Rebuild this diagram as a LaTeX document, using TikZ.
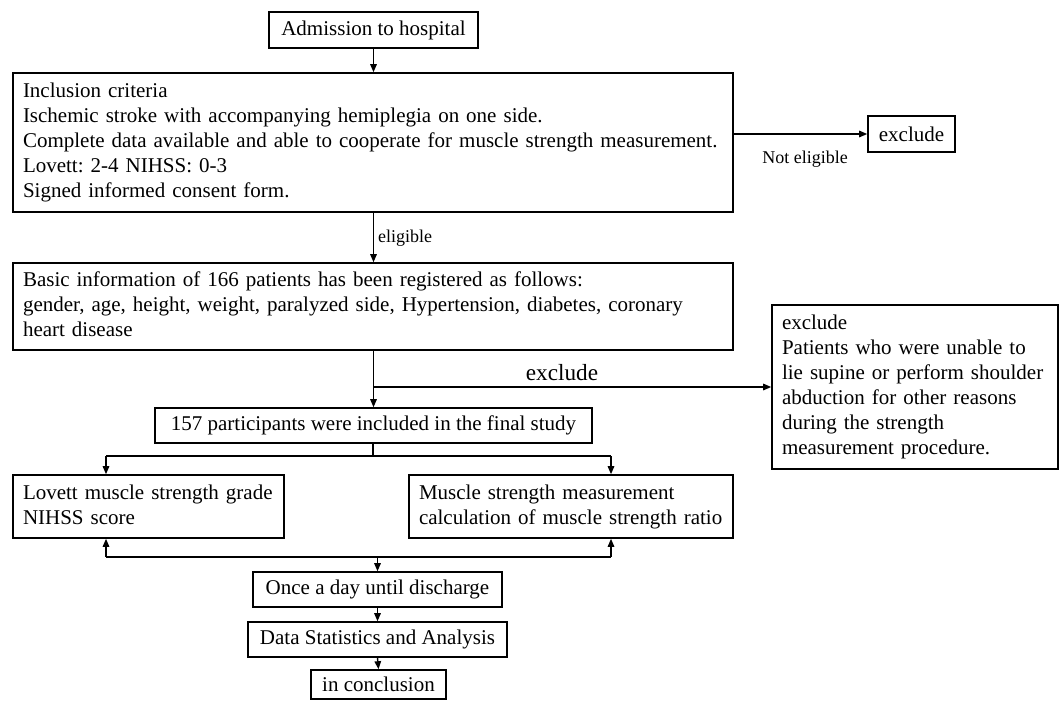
\documentclass[tikz,border=0pt]{standalone}
\usepackage{fontspec}
\setmainfont{Liberation Serif}
\usetikzlibrary{arrows.meta}
\frenchspacing
\newcommand{\lines}[1]{\begin{tabular}{@{}l@{}}#1\end{tabular}}
\begin{document}
\begin{tikzpicture}[x=1pt,y=-1pt,
  line width=1.5pt,
  box/.style={draw, line width=1.6pt, inner xsep=10pt, inner ysep=0pt,
    font=\fontsize{21}{25}\selectfont, anchor=center},
  lbox/.style={box, align=left},
  cbox/.style={box, align=center},
  arr/.style={-{Triangle[length=8pt,width=6.5pt]}, line width=1.4pt},
  conn/.style={line width=1.4pt},
  smalllab/.style={font=\fontsize{18}{21}\selectfont, inner sep=0pt},
  biglab/.style={font=\fontsize{23.2}{27}\selectfont, inner sep=0pt}
]
\useasboundingbox (0,0) rectangle (1064,701);
\fill[white] (0,0) rectangle (1064,701);

\node[cbox, minimum width=209pt, minimum height=36pt] (adm) at (373.5,30) {Admission to hospital};

\node[lbox, minimum width=720pt, minimum height=139pt, text width=700pt] (inc) at (373,142.5)
{\lines{Inclusion criteria\\
Ischemic stroke with accompanying hemiplegia on one side.\\
Complete data available and able to cooperate for muscle strength measurement.\\
Lovett: 2-4 NIHSS: 0-3\\
Signed informed consent form.}};

\node[cbox, minimum width=87pt, minimum height=36pt] (ex1) at (911.5,134) {exclude};
\node[smalllab] (ne) at (805,159) {Not eligible};

\node[lbox, minimum width=720pt, minimum height=87pt, text width=700pt] (bas) at (373,306.5)
{\lines{Basic information of 166 patients has been registered as follows:\\
gender, age, height, weight, paralyzed side, Hypertension, diabetes, coronary\\
heart disease}};

\node[lbox, minimum width=286pt, minimum height=164pt, text width=266pt] (ex2) at (915,387)
{\lines{exclude\\
Patients who were unable to\\
lie supine or perform shoulder\\
abduction for other reasons\\
during the strength\\
measurement procedure.}};

\node[cbox, minimum width=437pt, minimum height=35pt] (n157) at (373.5,425.5) {157 participants were included in the final study};

\node[lbox, minimum width=271pt, minimum height=63pt, text width=251pt] (lov) at (148.5,506.5)
{\lines{Lovett muscle strength grade\\
NIHSS score}};
\node[lbox, minimum width=324pt, minimum height=63pt, text width=304pt] (mus) at (571,506.5)
{\lines{Muscle strength measurement\\
calculation of muscle strength ratio}};

\node[cbox, minimum width=249pt, minimum height=35pt] (once) at (377.5,589.5) {Once a day until discharge};
\node[cbox, minimum width=259pt, minimum height=35pt] (data) at (377.5,639.5) {Data Statistics and Analysis};
\node[cbox, minimum width=135pt, minimum height=29pt] (concl) at (378.5,684.5) {in conclusion};

\node[smalllab] (elig) at (405,238) {eligible};
\node[biglab] (exl) at (562,373) {exclude};

% connectors
\draw[arr] (adm.south) -- (adm.south |- inc.north);
\draw[arr] (inc.east |- ex1.west) -- (ex1.west);
\draw[arr] (adm.south |- inc.south) -- (adm.south |- bas.north);

\coordinate (br) at (373,387);
\draw[arr] (adm.south |- bas.south) -- (adm.south |- n157.north);
\draw[arr] (br) -- (ex2.west);

\coordinate (jt) at (373,456);
\coordinate (la) at (106,456);
\coordinate (ra) at (611,456);
\draw[conn] (jt |- n157.south) -- (jt);
\draw[conn] (la) -- (ra);
\draw[arr] (la) -- (la |- lov.north);
\draw[arr] (ra) -- (ra |- mus.north);

\coordinate (lb) at (106,557);
\coordinate (rb) at (611,557);
\draw[conn] (lb) -- (rb);
\draw[arr] (lb) -- (lb |- lov.south);
\draw[arr] (rb) -- (rb |- mus.south);
\draw[arr] (once.north |- lb) -- (once.north);
\draw[arr] (once.south) -- (data.north);
\draw[arr] (data.south) -- (concl.north);
\end{tikzpicture}
\end{document}
